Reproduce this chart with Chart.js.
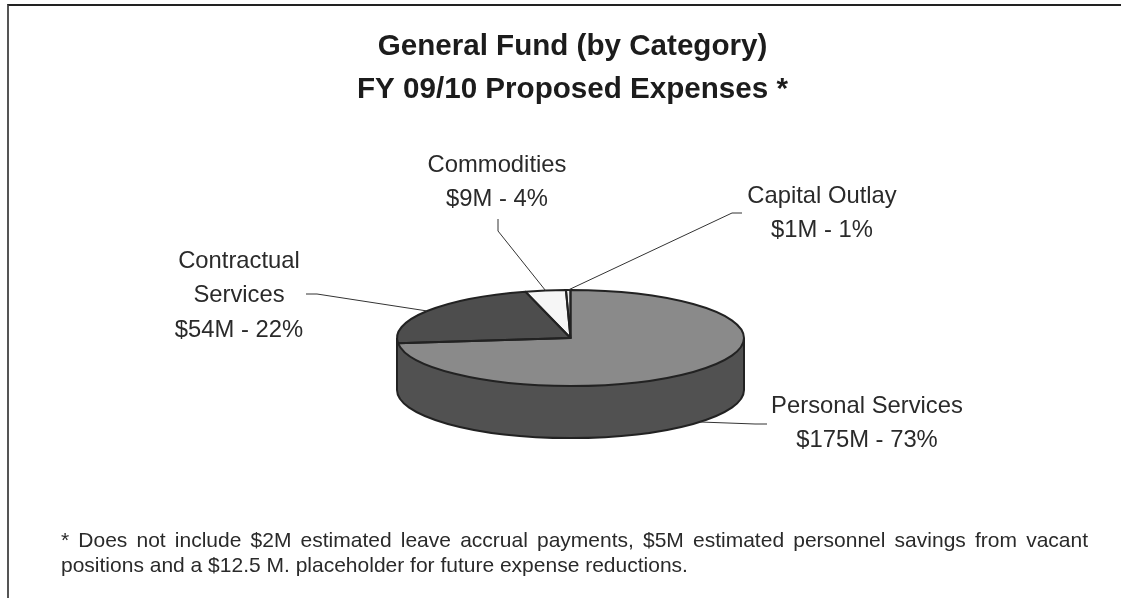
<!DOCTYPE html>
<html>
<head>
<meta charset="utf-8">
<title>General Fund (by Category)</title>
<script src="https://cdn.jsdelivr.net/npm/chart.js@4"></script>
<style>
  html, body { margin: 0; background: #fff; overflow: hidden; }
  #frame { position: absolute; left: 7px; top: 4px; width: 1114px; height: 594px; border-left: 2px solid #555; border-top: 2px solid #222; box-sizing: border-box; }
  #chart { position: absolute; left: 0; top: 0; }
  #note {
    position: absolute; left: 61px; top: 527px; width: 1027px;
    font: 21px/25px "Liberation Sans", Arial, sans-serif; color: #2a2a2a;
    text-align: justify;
  }
</style>
</head>
<body>
<div id="frame"></div>
<canvas id="chart" width="1121" height="598"></canvas>
<div id="note">* Does not include $2M estimated leave accrual payments, $5M estimated personnel savings from vacant positions and a $12.5 M. placeholder for future expense reductions.</div>
<script>
// Expenses in $M, clockwise from twelve o'clock
const categories = ['Personal Services', 'Contractual Services', 'Commodities', 'Capital Outlay'];
const expenses = [175, 54, 9, 1];
const shares = [73, 22, 4, 1];
const titleLines = ['General Fund (by Category)', 'FY 09/10 Proposed Expenses *'];

const topColors = ['#8a8a8a', '#4d4d4d', '#f6f6f6', '#eeeeee'];
const wallColor = '#515151';
const outline = '#222222';
const squash = 48 / 173.5;   // tilt of the pie
const depth = 52;

// where each label block sits, and the bends of its leader line
const labelSpots = [
  { x: 867, y: 413, lines: ['Personal Services'], leader: [[755, 424], [767, 424]] },
  { x: 239, y: 268, lines: ['Contractual', 'Services'], leader: [[317, 294], [306, 294]] },
  { x: 497, y: 172, lines: ['Commodities'], leader: [[498, 231], [498, 219]] },
  { x: 822, y: 203, lines: ['Capital Outlay'], leader: [[732, 213], [742, 213]] }
];

// Squash the arcs while the library paints them, with the wall underneath
const tiltedPie = {
  id: 'tiltedPie',
  beforeDatasetsDraw(chart) {
    const ctx = chart.ctx;
    const { x, y, outerRadius: r } = chart.getDatasetMeta(0).data[0];
    const ry = r * squash;

    // wall: only the front half of the rim shows
    ctx.save();
    ctx.beginPath();
    ctx.moveTo(x - r, y);
    ctx.lineTo(x - r, y + depth);
    ctx.ellipse(x, y + depth, r, ry, 0, Math.PI, 0, true);
    ctx.lineTo(x + r, y);
    ctx.fillStyle = wallColor;
    ctx.fill();
    ctx.lineWidth = 2;
    ctx.strokeStyle = outline;
    ctx.stroke();
    ctx.restore();

    ctx.save();
    ctx.translate(x, y);
    ctx.scale(1, squash);
    ctx.translate(-x, -y);
  },
  afterDatasetsDraw(chart) {
    const ctx = chart.ctx;
    ctx.restore();

    // slice outlines go on after the transform so the pen stays even
    const arcs = chart.getDatasetMeta(0).data;
    arcs.forEach(arc => {
      ctx.save();
      ctx.beginPath();
      ctx.moveTo(arc.x, arc.y);
      ctx.ellipse(arc.x, arc.y, arc.outerRadius, arc.outerRadius * squash, 0, arc.startAngle, arc.endAngle);
      ctx.closePath();
      ctx.lineWidth = 2;
      ctx.lineJoin = 'round';
      ctx.strokeStyle = outline;
      ctx.stroke();
      ctx.restore();
    });

    // leader lines start at the middle of each slice's rim
    labelSpots.forEach((spot, i) => {
      const arc = arcs[i];
      const mid = (arc.startAngle + arc.endAngle) / 2;
      const front = Math.sin(mid) > 0;
      ctx.save();
      ctx.beginPath();
      ctx.moveTo(
        arc.x + arc.outerRadius * Math.cos(mid),
        arc.y + arc.outerRadius * squash * Math.sin(mid) + (front ? depth : 0)
      );
      spot.leader.forEach(p => ctx.lineTo(p[0], p[1]));
      ctx.lineWidth = 1;
      ctx.strokeStyle = '#333';
      ctx.stroke();
      ctx.restore();
    });

    // title and slice labels
    ctx.save();
    ctx.textAlign = 'center';
    ctx.textBaseline = 'alphabetic';
    ctx.fillStyle = '#1c1c1c';
    ctx.font = 'bold 29.6px "Liberation Sans", Arial, sans-serif';
    ctx.fillText(titleLines[0], 572.5, 55);
    ctx.fillText(titleLines[1], 572.5, 98);
    ctx.fillStyle = '#2a2a2a';
    ctx.font = '23.8px "Liberation Sans", Arial, sans-serif';
    labelSpots.forEach((spot, i) => {
      const rows = spot.lines.concat('$' + expenses[i] + 'M - ' + shares[i] + '%');
      rows.forEach((row, n) => ctx.fillText(row, spot.x, spot.y + n * 34.4));
    });
    ctx.restore();
  }
};

new Chart(document.getElementById('chart'), {
  type: 'doughnut',
  data: {
    labels: categories,
    datasets: [{
      data: expenses,
      backgroundColor: topColors,
      borderWidth: 0
    }]
  },
  options: {
    responsive: false,
    animation: false,
    cutout: 0,
    layout: { padding: { left: 397, right: 377, top: 164.5, bottom: 86.5 } },
    plugins: {
      legend: { display: false },
      title: { display: false },
      tooltip: { enabled: false }
    }
  },
  plugins: [tiltedPie]
});
</script>
</body>
</html>
